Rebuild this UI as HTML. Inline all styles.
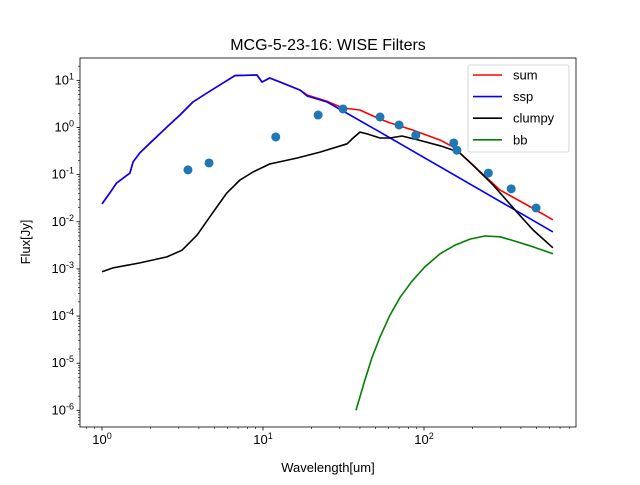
<!DOCTYPE html>
<html><head><meta charset="utf-8"><style>
body{margin:0;background:#fff}
svg{font-family:"Liberation Sans","DejaVu Sans",sans-serif}
</style></head><body>
<svg id="chart" width="640" height="480" viewBox="0 0 640 480"></svg>
<script>
// ---- data ----
const sspWl=[1.0,1.12,1.23,1.49,1.56,1.72,1.99,2.53,3.05,3.67,4.49,5.64,6.7,9.18,9.86,11.0,12.8,17.0,18.8,25,53.3,632];
const sspFlux=[0.024,0.041,0.066,0.108,0.186,0.29,0.47,1.02,1.84,3.47,5.4,8.8,12.6,13,9.2,11.2,9.2,6.2,4.66,3.47,0.80,0.0061];
const sumWl=[1.0,1.12,1.23,1.49,1.56,1.72,1.99,2.53,3.05,3.67,4.49,5.64,6.7,9.18,9.86,11.0,12.8,17.0,18.8,25,31.4,40,53.3,61.5,85.5,126,151,201,297,436,632];
const sumFlux=[0.024,0.041,0.066,0.108,0.186,0.29,0.47,1.02,1.84,3.47,5.4,8.8,12.6,13,9.2,11.2,9.2,6.2,4.9,3.6,2.59,2.35,1.51,1.25,0.88,0.54,0.39,0.16,0.047,0.0227,0.011];
const clumpyWl=[1.0,1.17,1.72,2.53,3.14,3.89,4.9,5.97,7.2,8.67,11.0,16.3,22.6,33.3,36.3,40,44.3,53.3,61.5,72.9,93,126,165,201,269,378,476,632];
const clumpyFlux=[8.7e-4,1.05e-3,1.34e-3,1.8e-3,2.5e-3,5.2e-3,0.016,0.041,0.077,0.114,0.168,0.225,0.30,0.45,0.6,0.8,0.73,0.6,0.6,0.66,0.54,0.41,0.30,0.16,0.060,0.016,0.0067,0.0028];
const bbWl=[37.8,42.4,47.5,53.3,61.5,71,84.2,101,126,156,193,239,297,367,455,632];
const bbFlux=[1.0e-6,3.8e-6,1.3e-5,3.6e-5,1.05e-4,2.5e-4,5.5e-4,1.1e-3,2.1e-3,3.2e-3,4.3e-3,5.0e-3,4.8e-3,3.9e-3,3.1e-3,2.1e-3];
const obsWl=[3.42,4.62,12.0,22,31.4,53.3,70,89,153,160,251,348,497];
const obsFlux=[0.126,0.177,0.63,1.84,2.47,1.67,1.13,0.69,0.47,0.33,0.108,0.050,0.0196];
const xTickExp=[0,1,2];
const yTickExp=[1,0,-1,-2,-3,-4,-5,-6];

// ---- axes ----
const L=80,R=576,T=58,B=427;
const X=w=>102+161*Math.log10(w);
const Y=f=>127.5-47.14*Math.log10(f);
const NS="http://www.w3.org/2000/svg";
const svg=document.getElementById('chart');
function mk(tag,attrs,parent){const e=document.createElementNS(NS,tag);for(const k in attrs)e.setAttribute(k,attrs[k]);(parent||svg).appendChild(e);return e;}

const title=mk('text',{x:328,y:50,'text-anchor':'middle','font-size':16});
title.textContent='MCG-5-23-16: WISE Filters';



function line(wl,fl,color,name){
  const p=mk('polyline',{points:wl.map((w,i)=>X(w).toFixed(1)+','+Y(fl[i]).toFixed(1)).join(' '),fill:'none',stroke:color,'stroke-width':1.6,'stroke-linejoin':'round'});
  
  
}
const clip=mk('clipPath',{id:'c'});mk('rect',{x:L,y:T,width:R-L,height:B-T},clip);
const g=mk('g',{'clip-path':'url(#c)'});
function lineG(wl,fl,color,name){
  const p=mk('polyline',{points:wl.map((w,i)=>X(w).toFixed(1)+','+Y(fl[i]).toFixed(1)).join(' '),fill:'none',stroke:color,'stroke-width':1.6,'stroke-linejoin':'round'},g);
  
  
}
lineG(sumWl,sumFlux,'#ff0000','sum-line');
lineG(sspWl,sspFlux,'#0000ff','ssp-line');
lineG(clumpyWl,clumpyFlux,'#000000','clumpy-line');
lineG(bbWl,bbFlux,'#008000','bb-line');
obsWl.forEach((w,i)=>{
  const c=mk('circle',{cx:X(w),cy:Y(obsFlux[i]),r:4.5,fill:'#1f77b4'},g);
  
  
});

mk('rect',{x:L,y:T,width:R-L,height:B-T,fill:'none',stroke:'#000','stroke-width':0.8});

// x ticks
for(let d=-1;d<=2;d++)for(let m=1;m<=9;m++){
  const w=m*Math.pow(10,d),x=X(w);if(x<L||x>R)continue;
  mk('line',{x1:x,x2:x,y1:B,y2:B+(m===1?3.5:2),stroke:'#000','stroke-width':m===1?0.8:0.6});
}
xTickExp.forEach(e=>{
  const t=mk('text',{x:X(Math.pow(10,e)),y:B+17,'text-anchor':'middle','font-size':13});
  t.innerHTML='10<tspan dy="-5" font-size="9">'+e+'</tspan>';
  
  
});
// y ticks
for(let d=-7;d<=1;d++)for(let m=1;m<=9;m++){
  const f=m*Math.pow(10,d),y=Y(f);if(y<T||y>B)continue;
  mk('line',{x1:L,x2:L-(m===1?3.5:2),y1:y,y2:y,stroke:'#000','stroke-width':m===1?0.8:0.6});
}
yTickExp.forEach(e=>{
  const t=mk('text',{x:L-6,y:Y(Math.pow(10,e))+4,'text-anchor':'end','font-size':13});
  t.innerHTML='10<tspan dy="-5" font-size="9">'+e+'</tspan>';
  
  
});
const xl=mk('text',{x:328,y:472,'text-anchor':'middle','font-size':13});
xl.textContent='Wavelength[um]';


const yl=mk('text',{x:30,y:242,'text-anchor':'middle','font-size':13,transform:'rotate(-90 30 242)'});
yl.textContent='Flux[Jy]';



// legend
const lg=mk('g',{});


mk('rect',{x:468,y:65,width:101,height:87,rx:2,fill:'#fff','fill-opacity':0.8,stroke:'#ccc','stroke-width':0.8},lg);
const legNames=['sum','ssp','clumpy','bb'],legCols=['#ff0000','#0000ff','#000000','#008000'];
legNames.forEach((n,i)=>{
  const y=75+i*21.6;
  const e=mk('g',{},lg);
  
  
  mk('line',{x1:473,x2:502,y1:y,y2:y,stroke:legCols[i],'stroke-width':1.6},e);
  const t=mk('text',{x:513,y:y+4.5,'font-size':13},e);t.textContent=n;
});
</script>
</body></html>
